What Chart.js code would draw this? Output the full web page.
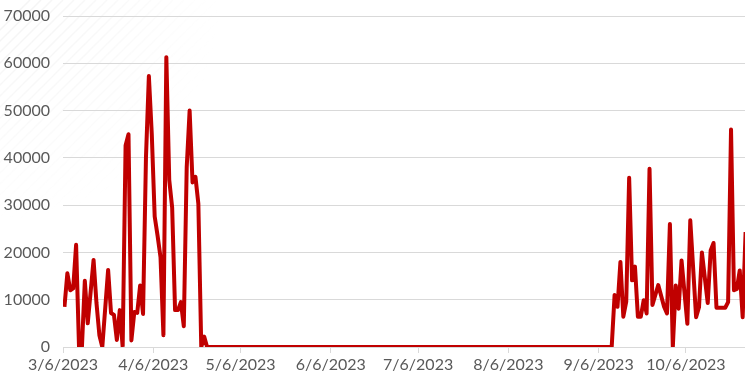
<!DOCTYPE html>
<html lang="en">
<head>
  <meta charset="UTF-8" />
  <title>Daily Amount</title>
  <script src="https://cdn.jsdelivr.net/npm/chart.js"></script>
  <style>
    body { margin: 0; background: #fff; }
    #wrap { width: 745px; height: 377px; }
  </style>
</head>
<body>
  <div id="wrap"><canvas id="dailyChart"></canvas></div>

  <script>
    // daily values (days with no change in between are left out, the line joins them)
    const dates = [
      '3/6/2023', '3/7/2023', '3/8/2023', '3/9/2023', '3/10/2023', '3/11/2023', '3/12/2023',
      '3/13/2023', '3/14/2023', '3/16/2023', '3/17/2023', '3/18/2023', '3/19/2023',
      '3/21/2023', '3/22/2023', '3/23/2023', '3/24/2023', '3/25/2023', '3/26/2023',
      '3/27/2023', '3/28/2023', '3/29/2023', '3/30/2023', '3/31/2023', '4/1/2023', '4/2/2023',
      '4/3/2023', '4/4/2023', '4/5/2023', '4/6/2023', '4/7/2023', '4/8/2023', '4/9/2023',
      '4/10/2023', '4/11/2023', '4/12/2023', '4/13/2023', '4/14/2023', '4/15/2023', '4/16/2023',
      '4/17/2023', '4/18/2023', '4/19/2023', '4/20/2023', '4/21/2023', '4/22/2023', '4/23/2023',
      '4/24/2023', '9/10/2023',
      '9/11/2023', '9/12/2023', '9/13/2023', '9/14/2023', '9/15/2023', '9/16/2023', '9/17/2023',
      '9/18/2023', '9/19/2023', '9/20/2023', '9/21/2023', '9/22/2023', '9/23/2023', '9/24/2023',
      '9/26/2023', '9/28/2023', '9/29/2023', '9/30/2023', '10/1/2023', '10/2/2023', '10/3/2023',
      '10/4/2023', '10/6/2023', '10/7/2023', '10/9/2023', '10/10/2023', '10/11/2023',
      '10/13/2023', '10/14/2023', '10/15/2023', '10/16/2023', '10/17/2023', '10/18/2023',
      '10/19/2023', '10/20/2023', '10/21/2023', '10/22/2023', '10/23/2023', '10/24/2023',
      '10/25/2023', '10/26/2023'
    ];
    const amounts = [
      8500, 15600, 12000, 12400, 21600, 0, 0,
      14000, 5000, 18400, 9300, 2500, 0,
      16300, 7200, 6800, 1500, 7800, 0,
      42600, 45000, 1400, 7400, 7200, 13000, 7000,
      40000, 57300, 45000, 27600, 23500, 19000, 2500,
      61300, 35300, 29500, 7800, 7800, 9500, 4400,
      38000, 50000, 34800, 36000, 30300, 0, 2200,
      0, 0,
      11000, 8500, 18000, 6400, 9600, 35800, 14100,
      17000, 6400, 6400, 9900, 7100, 37700, 8900,
      13100, 8500, 7100, 26000, 0, 13000, 8100,
      18300, 4900, 26800, 6300, 8400, 20000,
      9300, 20400, 22000, 8300, 8300, 8300,
      8300, 9500, 46000, 12000, 12300, 16200,
      6300, 24300
    ];
    const tickLabels = ['3/6/2023', '4/6/2023', '5/6/2023', '6/6/2023', '7/6/2023', '8/6/2023', '9/6/2023', '10/6/2023'];
    const yTicks = [0, 10000, 20000, 30000, 40000, 50000, 60000, 70000];

    const DAY = 86400000;
    function toTime(s) {
      const [m, d, y] = s.split('/').map(Number);
      return Date.UTC(y, m - 1, d);
    }
    const start = toTime(tickLabels[0]);
    const dayOf = s => (toTime(s) - start) / DAY;
    const tickDays = tickLabels.map(dayOf);

    // each point sits in the middle of its day slot
    const points = dates.map((d, i) => ({ x: dayOf(d) + 0.5, y: amounts[i] }));

    const textColor = '#595959';
    const gridColor = '#d9d9d9';
    const font = { family: 'Lato', size: 16 };

    // faint diagonal hatch in the top left corner
    const hatch = {
      id: 'hatch',
      beforeDraw(chart) {
        const ctx = chart.ctx;
        const g = ctx.createRadialGradient(0, 0, 0, 0, 0, 220);
        g.addColorStop(0, 'rgba(215,215,215,0.3)');
        g.addColorStop(1, 'rgba(215,215,215,0)');
        ctx.save();
        ctx.strokeStyle = g;
        ctx.lineWidth = 1.5;
        for (let k = -200; k < 260; k += 11) {
          ctx.beginPath();
          ctx.moveTo(k, 230);
          ctx.lineTo(k + 230, 0);
          ctx.stroke();
        }
        ctx.restore();
      }
    };

    new Chart(document.getElementById('dailyChart'), {
      type: 'line',
      data: {
        datasets: [{
          data: points,
          borderColor: '#c00000',
          borderWidth: 4,
          borderJoinStyle: 'round',
          pointRadius: 0,
          tension: 0
        }]
      },
      options: {
        responsive: true,
        maintainAspectRatio: false,
        animation: false,
        layout: { padding: { top: 16, right: 0, bottom: 0, left: 0 } },
        plugins: { legend: { display: false }, tooltip: { enabled: false } },
        scales: {
          x: {
            type: 'linear',
            min: 0,
            max: 234.3,
            afterBuildTicks: scale => { scale.ticks = tickDays.map(v => ({ value: v })); },
            afterFit: scale => { scale.height = 30; },
            ticks: {
              autoSkip: false,
              maxRotation: 0,
              color: textColor,
              font: font,
              padding: 2,
              callback: v => tickLabels[tickDays.indexOf(v)]
            },
            grid: { drawOnChartArea: false, tickLength: 6, color: gridColor },
            border: { color: gridColor }
          },
          y: {
            min: 0,
            max: 70000,
            afterBuildTicks: scale => { scale.ticks = yTicks.map(v => ({ value: v })); },
            afterFit: scale => {
              scale.width = 63;
              scale.paddingTop = 0;
              scale.paddingBottom = 0;
            },
            ticks: { color: textColor, font: font, padding: 13, callback: v => String(v) },
            grid: { color: gridColor, drawTicks: false },
            border: { display: false }
          }
        }
      },
      plugins: [hatch]
    });
  </script>
</body>
</html>
